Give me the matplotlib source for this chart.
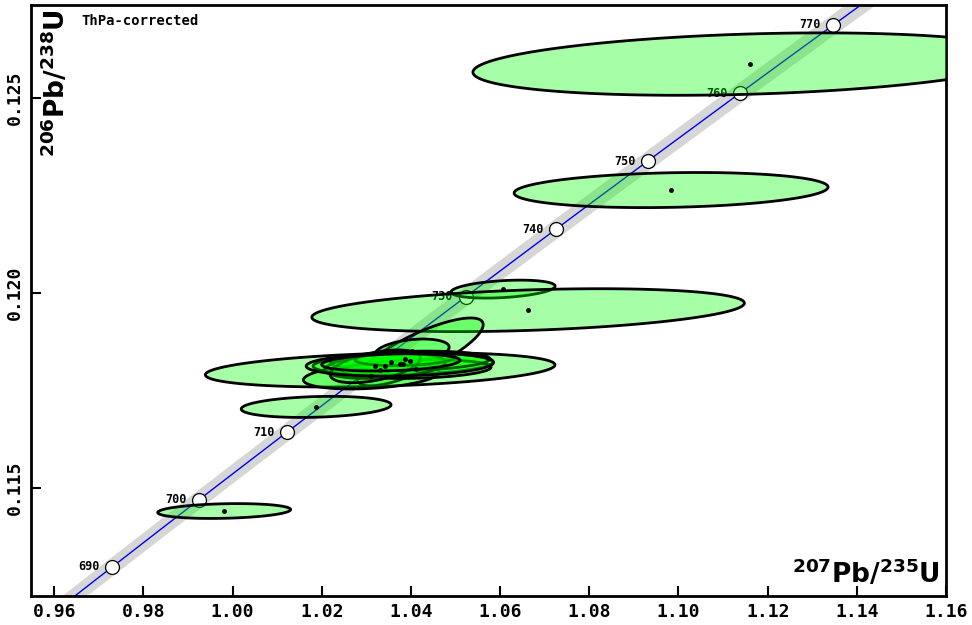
import numpy as np
import matplotlib
matplotlib.use("Agg")
import matplotlib.pyplot as plt

# Decay constants (1/yr) and relative uncertainty of lambda235 used for the band
LAMBDA_238 = 1.55125e-10
LAMBDA_235 = 9.8485e-10
REL_ERR_235 = 0.0021

# Concordia age markers (Ma)
marker_ages = [690, 700, 710, 720, 730, 740, 750, 760, 770]

# Analyses: 207Pb/235U, 206Pb/238U, ellipse half-extents and error correlation
x_vals = [1.1161, 1.09834, 1.06067, 1.06628, 1.01874, 0.99812,
          1.0331, 1.0421, 1.04027, 1.0311, 1.03825, 1.04117,
          1.0398, 1.0342, 1.0320, 1.0387, 1.0375, 1.0355]
y_vals = [0.12587, 0.12264, 0.12010, 0.11956, 0.11708, 0.11441,
          0.11803, 0.11849, 0.11852, 0.11787, 0.11818, 0.11805,
          0.11826, 0.11813, 0.11812, 0.11832, 0.11817, 0.11822]
x_err = [0.0622, 0.0352, 0.01166, 0.0485, 0.0168, 0.0149,
         0.0392, 0.0141, 0.0083, 0.0152, 0.0202, 0.0168,
         0.0179, 0.0135, 0.0101, 0.0112, 0.0210, 0.0155]
y_err = [0.00080, 0.00045, 0.00023, 0.00055, 0.00027, 0.00019,
         0.00044, 0.00087, 0.00030, 0.00033, 0.00028, 0.00024,
         0.00025, 0.00032, 0.00042, 0.00018, 0.00030, 0.00022]
rho = [0.26, 0.17, 0.33, 0.33, 0.2, 0.2,
       0.29, 0.8, 0.3, 0.3, 0.2, 0.2,
       0.2, 0.3, 0.5, 0.2, 0.15, 0.25]

x_ticks = [0.96, 0.98, 1.00, 1.02, 1.04, 1.06, 1.08, 1.10, 1.12, 1.14, 1.16]
y_ticks = [0.115, 0.120, 0.125]


def concordia(t_ma):
    t = np.asarray(t_ma) * 1e6
    return np.exp(LAMBDA_235 * t) - 1, np.exp(LAMBDA_238 * t) - 1


def ellipse_path(cx, cy, sx, sy, r, n=200):
    th = np.linspace(0, 2 * np.pi, n)
    ex = cx + sx * np.cos(th)
    ey = cy + sy * (r * np.cos(th) + np.sqrt(1 - r ** 2) * np.sin(th))
    return ex, ey


mono = "DejaVu Sans Mono"
fig = plt.figure(figsize=(9.72, 6.25), dpi=100)
ax = fig.add_axes([0.0319, 0.0464, 0.9414, 0.9456])

# Concordia curve with decay-constant uncertainty band
t_curve = np.linspace(600, 850, 600)
cx_, cy_ = concordia(t_curve)
dx = t_curve * 1e6 * np.exp(LAMBDA_235 * t_curve * 1e6) * LAMBDA_235 * REL_ERR_235
ax.fill_betweenx(cy_, cx_ - dx, cx_ + dx, color="#d6d6d6", lw=0, zorder=1)
ax.plot(cx_, cy_, color="#0000ee", lw=1.0, zorder=2)

mx, my = concordia(marker_ages)
ax.plot(mx, my, "o", ms=10, mfc="white", mec="black", mew=0.9, zorder=3)
for age, px, py in zip(marker_ages, mx, my):
    ax.annotate(str(age), (px, py), xytext=(-9, 0), textcoords="offset points",
                ha="right", va="center", fontsize=8.5, fontweight="bold",
                family=mono, zorder=3)

# Error ellipses and their centre points
for cx, cy, sx, sy, r in zip(x_vals, y_vals, x_err, y_err, rho):
    ex, ey = ellipse_path(cx, cy, sx, sy, r)
    ax.fill(ex, ey, facecolor=(0, 1, 0, 0.35), edgecolor="black", lw=2, zorder=4)
ax.plot(x_vals, y_vals, "o", ms=2.5, color="black", zorder=5)

ax.set_xlim(0.9548, 1.16)
ax.set_ylim(0.112231, 0.127385)
ax.set_xticks(x_ticks)
ax.set_xticklabels([f"{v:.2f}" for v in x_ticks])
ax.set_yticks(y_ticks)
ax.set_yticklabels([f"{v:.3f}" for v in y_ticks], rotation=90, va="center")
ax.tick_params(direction="in", length=7, width=1.5, top=False, right=False, pad=5)
for lab in ax.get_xticklabels() + ax.get_yticklabels():
    lab.set_family(mono)
    lab.set_fontweight("bold")
    lab.set_fontsize(13)
for sp in ax.spines.values():
    sp.set_linewidth(2)

ax.text(0.993, 0.012, r"$\mathbf{^{207}Pb/^{235}U}$", transform=ax.transAxes,
        ha="right", va="bottom", fontsize=19, zorder=6)
ax.text(0.01, 0.993, r"$\mathbf{^{206}Pb/^{238}U}$", transform=ax.transAxes,
        ha="left", va="top", rotation=90, fontsize=19, zorder=6)
ax.text(0.055, 0.985, "ThPa-corrected", transform=ax.transAxes,
        ha="left", va="top", fontsize=10, fontweight="bold", family=mono, zorder=6)

fig.savefig("out.png", dpi=100)
